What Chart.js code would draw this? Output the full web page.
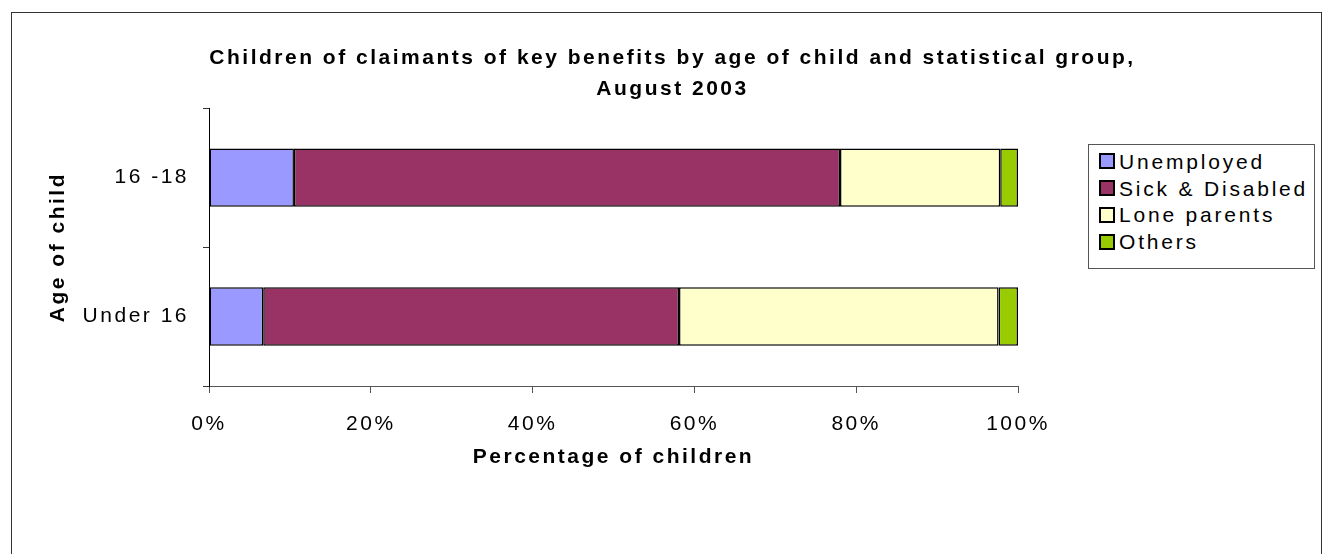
<!DOCTYPE html>
<html>
<head>
<meta charset="utf-8">
<script src="https://cdn.jsdelivr.net/npm/chart.js@4"></script>
<style>
  body { margin: 0; background: #fff; font-family: Arial, "Liberation Sans", sans-serif; }
  #wrap { position: relative; width: 1323px; height: 554px; overflow: hidden; }
  #frame { position: absolute; left: 11px; top: 12px; width: 1309px; height: 560px; border: 1px solid #333; }
  #chart { position: absolute; left: 0; top: 0; }
  #legend { position: absolute; left: 1088px; top: 144px; width: 225px; height: 123px; border: 1px solid #555; background: #fff; }
  .item { position: absolute; left: 10px; height: 26px; line-height: 26px; font-size: 21px; letter-spacing: 2.8px; color: #000; white-space: nowrap; }
  .sw { display: inline-block; width: 12px; height: 12px; border: 2px solid #000; vertical-align: middle; margin-right: 4px; position: relative; top: -2px; }
</style>
</head>
<body>
<div id="wrap">
  <div id="frame"></div>
  <canvas id="chart" width="1323" height="554"></canvas>
  <div id="legend"></div>
</div>
<script>
const ageGroups = ["16 -18", "Under 16"];
const unemployed = [10.5, 6.7];
const sickDisabled = [67.5, 51.4];
const loneParents = [19.8, 39.5];
const others = [2.2, 2.4];
const seriesNames = ["Unemployed", "Sick & Disabled", "Lone parents", "Others"];
const seriesColors = ["#9999FF", "#993366", "#FFFFCC", "#99CC00"];
const xTicks = [0, 20, 40, 60, 80, 100];

const fontFamily = "Arial, 'Liberation Sans', sans-serif";
const seriesValues = [unemployed, sickDisabled, loneParents, others];

const datasets = seriesNames.map(function (name, i) {
  return {
    label: name,
    data: seriesValues[i],
    backgroundColor: seriesColors[i],
    borderColor: "#000",
    borderWidth: 1.5,
    borderSkipped: false,
    barPercentage: 0.42,
    categoryPercentage: 1,
  };
});

// the original text is set wide, spread the letters a bit
const wideText = {
  id: "wideText",
  beforeUpdate: function (chart) {
    chart.ctx.letterSpacing = "2.5px";
  },
};

new Chart(document.getElementById("chart"), {
  type: "bar",
  data: { labels: ageGroups, datasets: datasets },
  plugins: [wideText],
  options: {
    responsive: false,
    animation: false,
    indexAxis: "y",
    layout: { padding: { left: 22, right: 0, top: 0, bottom: 69 } },
    scales: {
      x: {
        stacked: true,
        min: 0,
        max: 100,
        afterBuildTicks: function (scale) {
          scale.ticks = xTicks.map(function (v) { return { value: v }; });
        },
        afterFit: function (scale) { scale.height = 99; },
        ticks: {
          color: "#000",
          padding: 19,
          maxRotation: 0,
          font: { family: fontFamily, size: 21 },
          callback: function (v) { return v + "%"; },
        },
        grid: { drawOnChartArea: false, drawTicks: true, tickLength: 7, color: "#555" },
        border: { display: true, color: "#555", width: 1 },
        title: {
          display: true,
          text: "Percentage of children",
          color: "#000",
          font: { family: fontFamily, size: 21, weight: "bold" },
          padding: { top: 0, bottom: 15 },
        },
      },
      y: {
        stacked: true,
        afterFit: function (scale) { scale.width = 187; },
        ticks: {
          color: "#000",
          padding: 14,
          font: { family: fontFamily, size: 21 },
        },
        grid: { drawOnChartArea: false, drawTicks: true, tickLength: 6, offset: true, color: "#333" },
        border: { display: true, color: "#000", width: 1 },
        title: {
          display: true,
          text: "Age of child",
          color: "#000",
          font: { family: fontFamily, size: 21, weight: "bold" },
          padding: { top: 24, bottom: 0 },
        },
      },
      spaceRight: {
        type: "linear",
        position: "right",
        display: true,
        afterFit: function (scale) { scale.width = 305; },
        ticks: { display: false },
        grid: { display: false },
        border: { display: false },
      },
    },
    plugins: {
      legend: { display: false },
      tooltip: { enabled: false },
      title: {
        display: true,
        text: [
          "Children of claimants of key benefits by age of child and statistical group,",
          "August 2003",
        ],
        color: "#000",
        font: { family: fontFamily, size: 21, weight: "bold", lineHeight: 1.48 },
        padding: { top: 43, bottom: 3 },
      },
    },
  },
});

// legend box like the original
const legendEl = document.getElementById("legend");
seriesNames.forEach(function (name, i) {
  const row = document.createElement("div");
  row.className = "item";
  row.style.top = 4 + i * 26.7 + "px";
  row.innerHTML = '<span class="sw" style="background:' + seriesColors[i] + '"></span>' + name.replace("&", "&amp;");
  legendEl.appendChild(row);
});
</script>
</body>
</html>
